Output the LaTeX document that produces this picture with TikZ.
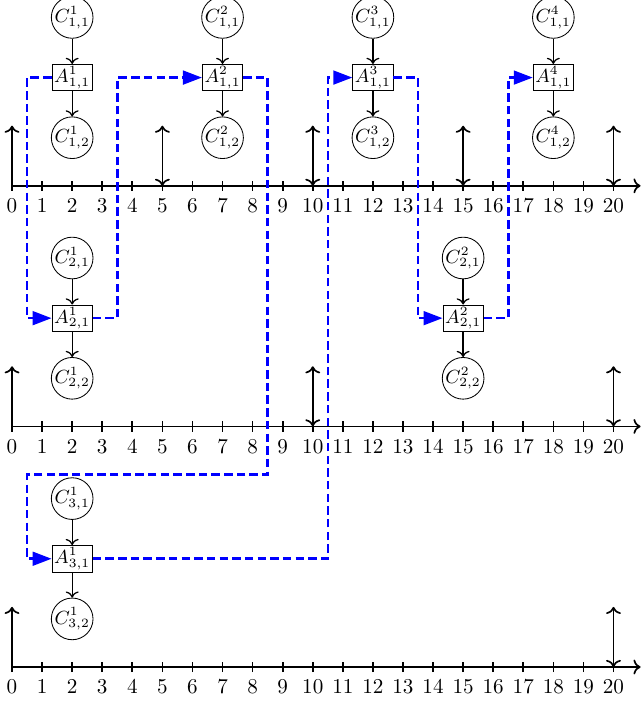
\documentclass[tikz,border=0pt]{standalone}
\usetikzlibrary{arrows.meta}
\begin{document}
\begin{tikzpicture}[x=0.5cm,y=0.5cm,
  job/.style={draw,circle,inner sep=0pt,minimum size=0.65cm,font=\small},
  act/.style={draw,rectangle,inner sep=1pt,font=\small},
  flow/.style={blue,very thick,dash pattern=on 4pt off 2pt},
  flowin/.style={flow,-{Triangle[length=9pt,width=6.5pt]}}]
  \useasboundingbox (-0.4,-17.23) rectangle (20.93,6.18);
  % time axes with ticks
  \foreach \k/\y in {1/0,2/-8,3/-16} {
    \draw[thick,->] (0,\y) -- (20.9,\y);
    \foreach \t in {0,...,20} {
      \draw[thick] (\t,\y-0.17) -- (\t,\y+0.17);
      \node[below] (tick\k-\t) at (\t,\y-0.17) {\t};
    }
  }
  % releases and deadlines
  \foreach \y/\list in {0/{5,10,15,20}, -8/{10,20}, -16/{20}} {
    \draw[thick,->] (0,\y) -- (0,\y+2);
    \foreach \t in \list
      \draw[thick,<->] (\t,\y) -- (\t,\y+2);
  }
  % jobs
  \foreach \i/\j/\t in {1/1/2, 1/2/7, 1/3/12, 1/4/18, 2/1/2, 2/2/15, 3/1/2} {
    \node[job] (c\i\j-1) at (\t,{5.6-8*(\i-1)}) {$C^{\j}_{\i,1}$};
    \node[act] (a\i\j) at (\t,{3.6-8*(\i-1)}) {$A^{\j}_{\i,1}$};
    \node[job] (c\i\j-2) at (\t,{1.6-8*(\i-1)}) {$C^{\j}_{\i,2}$};
    \draw[semithick,->] (c\i\j-1) -- (a\i\j);
    \draw[semithick,->] (a\i\j) -- (c\i\j-2);
  }
  % execution order
  \draw[flowin] (a11.west) -| (0.5,-4.4) -- (a21.west);
  \draw[flowin] (a21.east) -| (3.5,3.6) -- (a12.west);
  \draw[flowin] (a12.east) -| (8.5,-9.6) -| (0.5,-12.4) -- (a31.west);
  \draw[flowin] (a31.east) -| (10.5,3.6) -- (a13.west);
  \draw[flowin] (a13.east) -| (13.5,-4.4) -- (a22.west);
  \draw[flowin] (a22.east) -| (16.5,3.6) -- (a14.west);
\end{tikzpicture}
\end{document}
